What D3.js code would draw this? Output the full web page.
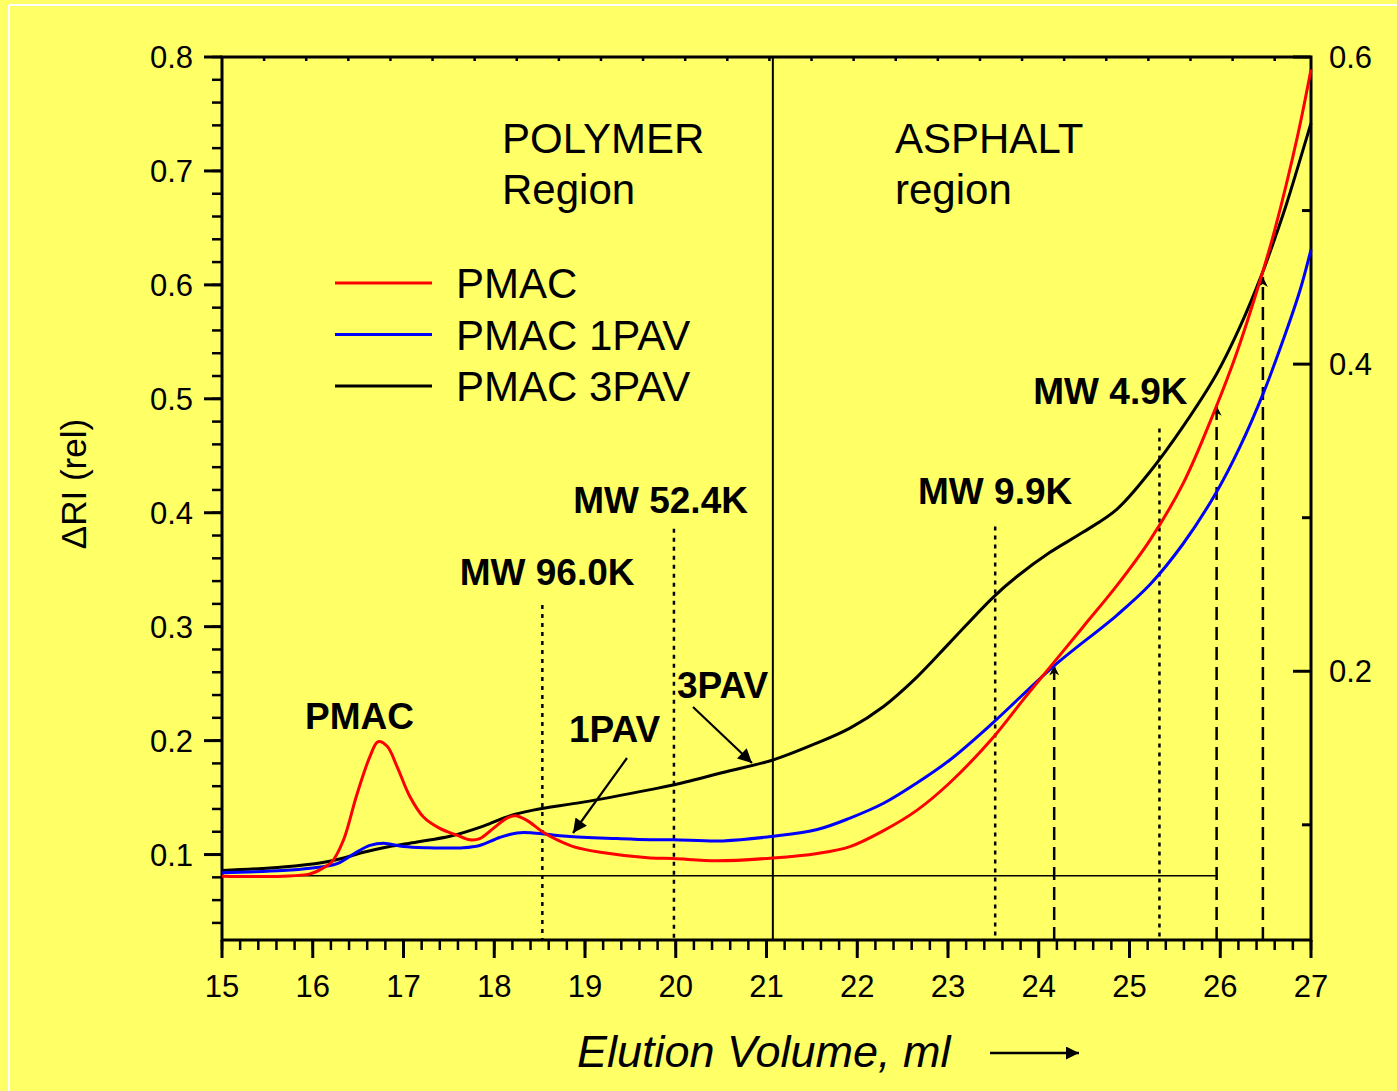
<!DOCTYPE html>
<html>
<head>
<meta charset="utf-8">
<script src="https://cdn.jsdelivr.net/npm/d3@7"></script>
<style>
  html, body { margin: 0; padding: 0; background: #FFFF66; }
  svg { display: block; }
  text { font-family: "Liberation Sans", Arial, sans-serif; fill: #000; }
</style>
</head>
<body>
<script>
// ---------------- DATA ----------------
const pmacX = [15, 15.67, 15.97, 16.11, 16.21, 16.34, 16.48, 16.63, 16.72, 16.82, 16.93, 17.07, 17.22, 17.4, 17.59, 17.73, 17.84, 17.99, 18.14, 18.23, 18.36, 18.53, 18.69, 18.87, 19.17, 19.72, 19.97, 20.45, 21.07, 21.56, 21.92, 22.29, 22.66, 23.02, 23.5, 23.83, 24.16, 24.49, 24.86, 25.226, 25.593, 25.94, 26.18, 26.44, 26.6, 26.85, 27];
const pmacY = [0.081, 0.081, 0.083, 0.088, 0.0935, 0.113, 0.151, 0.186, 0.199, 0.195, 0.177, 0.151, 0.133, 0.123, 0.117, 0.113, 0.114, 0.123, 0.132, 0.134, 0.130, 0.120, 0.113, 0.107, 0.102, 0.097, 0.0965, 0.0945, 0.097, 0.101, 0.107, 0.121, 0.139, 0.163, 0.203, 0.236, 0.268, 0.300, 0.336, 0.376, 0.426, 0.490, 0.540, 0.604, 0.648, 0.730, 0.789];

const pav1X = [15, 15.67, 15.97, 16.27, 16.48, 16.63, 16.78, 17.0, 17.26, 17.66, 17.84, 18.06, 18.25, 18.43, 18.8, 19.35, 19.72, 19.97, 20.52, 21.07, 21.56, 21.92, 22.29, 22.66, 23.02, 23.5, 24.16, 24.86, 25.226, 25.593, 25.961, 26.218, 26.475, 26.695, 26.88, 27];
const pav1Y = [0.084, 0.086, 0.088, 0.092, 0.102, 0.108, 0.110, 0.107, 0.106, 0.106, 0.108, 0.115, 0.119, 0.119, 0.116, 0.114, 0.113, 0.113, 0.112, 0.116, 0.122, 0.132, 0.145, 0.163, 0.183, 0.216, 0.265, 0.310, 0.337, 0.373, 0.4185, 0.458, 0.505, 0.552, 0.5955, 0.631];

const pav3X = [15, 15.67, 16.11, 16.34, 16.56, 16.78, 17.15, 17.51, 17.88, 18.17, 18.43, 18.98, 19.72, 19.97, 20.52, 21.07, 21.56, 21.92, 22.29, 22.66, 23.02, 23.5, 23.76, 24.12, 24.49, 24.86, 25.226, 25.593, 25.961, 26.218, 26.457, 26.62, 26.73, 27];
const pav3Y = [0.086, 0.089, 0.093, 0.097, 0.102, 0.106, 0.111, 0.116, 0.125, 0.134, 0.139, 0.146, 0.157, 0.161, 0.172, 0.183, 0.198, 0.211, 0.230, 0.256, 0.286, 0.326, 0.344, 0.365, 0.383, 0.403, 0.436, 0.476, 0.522, 0.5633, 0.609, 0.645, 0.671, 0.742];

const seriesNames = ["PMAC", "PMAC 1PAV", "PMAC 3PAV"];
const seriesColors = ["#ff0000", "#0000ff", "#000000"];

const xTickLabels = ["15","16","17","18","19","20","21","22","23","24","25","26","27"];
const yLeftTickLabels = ["0.1","0.2","0.3","0.4","0.5","0.6","0.7","0.8"];
const yRightTickLabels = ["0.2","0.4","0.6"];
const topTickValues = [15.464, 15.928, 16.392, 16.856, 17.32, 17.784, 18.248, 18.712, 19.176, 19.64, 20.104, 20.568, 21.032, 21.496, 21.96, 22.424, 22.888, 23.352, 23.816, 24.28, 24.744, 25.208, 25.672, 26.136, 26.6];

// MW marker lines (dotted) : x position, top value, label
const mwX = [18.53, 19.98, 23.52, 25.33];
const mwTop = [0.319, 0.386, 0.388, 0.474];
const mwLabels = ["MW 96.0K", "MW 52.4K", "MW 9.9K", "MW 4.9K"];
const mwLabelX = [17.62, 18.87, 22.67, 23.94];
const mwLabelY = [0.3366, 0.3998, 0.4077, 0.4955];

// dashed arrow lines
const dashX = [24.17, 25.96, 26.47];
const dashTop = [0.266, 0.494, 0.607];

const dividerX = 21.07;
const baselineValue = 0.0815;
const baselineEnd = 25.97;

// ---------------- LAYOUT ----------------
const W = 1397, H = 1091;
const pL = 222, pR = 1311, pT = 57, pB = 940;

const svg = d3.select("body").append("svg").attr("width", W).attr("height", H);
svg.append("rect").attr("width", W).attr("height", H).attr("fill", "#FFFF66");
svg.append("line").attr("x1", 9).attr("x2", W).attr("y1", 5).attr("y2", 5).attr("stroke", "#fff").attr("stroke-width", 2);
svg.append("line").attr("x1", 9).attr("x2", 9).attr("y1", 5).attr("y2", H).attr("stroke", "#fff").attr("stroke-width", 2);

const x = d3.scaleLinear().domain([15, 27]).range([pL, pR]);
const y = d3.scaleLinear().domain([0.025, 0.8]).range([pB, pT]);
const yR = d3.scaleLinear().domain([0.025, 0.6]).range([pB, pT]);

const defs = svg.append("defs");
defs.append("marker").attr("id", "arr").attr("viewBox", "0 0 10 10")
  .attr("refX", 10).attr("refY", 5).attr("markerWidth", 22).attr("markerHeight", 14)
  .attr("markerUnits", "userSpaceOnUse").attr("orient", "auto")
  .append("path").attr("d", "M0,0 L10,5 L0,10 Z").attr("fill", "#000");
defs.append("marker").attr("id", "arrSmall").attr("viewBox", "0 0 10 10")
  .attr("refX", 10).attr("refY", 5).attr("markerWidth", 13).attr("markerHeight", 10)
  .attr("markerUnits", "userSpaceOnUse").attr("orient", "auto")
  .append("path").attr("d", "M0,0 L10,5 L0,10 L3,5 Z").attr("fill", "#000");
defs.append("marker").attr("id", "arrAxis").attr("viewBox", "0 0 10 10")
  .attr("refX", 10).attr("refY", 5).attr("markerWidth", 22).attr("markerHeight", 13)
  .attr("markerUnits", "userSpaceOnUse").attr("orient", "auto")
  .append("path").attr("d", "M0,0 L10,5 L0,10 Z").attr("fill", "#000");

// ---------------- AXES ----------------
const ax = svg.append("g");

const bottomMinor = d3.range(15, 27.0001, 0.2);
ax.selectAll(".bmin").data(bottomMinor).join("line")
  .attr("x1", d => x(d)).attr("x2", d => x(d)).attr("y1", pB).attr("y2", pB + 10)
  .attr("stroke", "#000").attr("stroke-width", 2.5);
ax.selectAll(".bmaj").data(xTickLabels).join("line")
  .attr("x1", d => x(+d)).attr("x2", d => x(+d)).attr("y1", pB).attr("y2", pB + 18)
  .attr("stroke", "#000").attr("stroke-width", 3);
ax.selectAll(".blab").data(xTickLabels).join("text")
  .attr("x", d => x(+d)).attr("y", 997).attr("text-anchor", "middle")
  .attr("font-size", 31).text(d => d);

ax.selectAll(".tt").data(topTickValues).join("line")
  .attr("x1", d => x(d)).attr("x2", d => x(d)).attr("y1", pT).attr("y2", pT + 4)
  .attr("stroke", "#000").attr("stroke-width", 2.5);

const leftMinor = d3.range(0.04, 0.8001, 0.02);
ax.selectAll(".lmin").data(leftMinor).join("line")
  .attr("x1", pL - 10).attr("x2", pL).attr("y1", d => y(d)).attr("y2", d => y(d))
  .attr("stroke", "#000").attr("stroke-width", 2.5);
ax.selectAll(".lmaj").data(yLeftTickLabels).join("line")
  .attr("x1", pL - 18).attr("x2", pL).attr("y1", d => y(+d)).attr("y2", d => y(+d))
  .attr("stroke", "#000").attr("stroke-width", 3);
ax.selectAll(".llab").data(yLeftTickLabels).join("text")
  .attr("x", 193).attr("y", d => y(+d) + 11).attr("text-anchor", "end")
  .attr("font-size", 31).text(d => d);

const rightMinor = [0.1, 0.3, 0.5];
ax.selectAll(".rmin").data(rightMinor).join("line")
  .attr("x1", pR - 9).attr("x2", pR).attr("y1", d => yR(d)).attr("y2", d => yR(d))
  .attr("stroke", "#000").attr("stroke-width", 3);
ax.selectAll(".rmaj").data(yRightTickLabels).join("line")
  .attr("x1", pR - 18).attr("x2", pR).attr("y1", d => yR(+d)).attr("y2", d => yR(+d))
  .attr("stroke", "#000").attr("stroke-width", 3);
ax.selectAll(".rlab").data(yRightTickLabels).join("text")
  .attr("x", 1329).attr("y", d => yR(+d) + 11).attr("text-anchor", "start")
  .attr("font-size", 31).text(d => d);

ax.append("rect").attr("x", pL).attr("y", pT).attr("width", pR - pL).attr("height", pB - pT)
  .attr("fill", "none").attr("stroke", "#000").attr("stroke-width", 3);

svg.append("text").attr("transform", "translate(86,484) rotate(-90)")
  .attr("text-anchor", "middle").attr("font-size", 35).text("ΔRI (rel)");
svg.append("text").attr("x", 577).attr("y", 1067).attr("font-size", 45)
  .attr("font-style", "italic").text("Elution Volume, ml");
svg.append("line").attr("x1", 990).attr("x2", 1079).attr("y1", 1053).attr("y2", 1053)
  .attr("stroke", "#000").attr("stroke-width", 2.5).attr("marker-end", "url(#arrAxis)");

// ---------------- REFERENCE LINES ----------------
const g = svg.append("g");
g.append("line").attr("x1", x(15)).attr("x2", x(baselineEnd))
  .attr("y1", y(baselineValue)).attr("y2", y(baselineValue))
  .attr("stroke", "#000").attr("stroke-width", 1.5);
g.append("line").attr("x1", x(dividerX)).attr("x2", x(dividerX)).attr("y1", pT).attr("y2", pB)
  .attr("stroke", "#000").attr("stroke-width", 2);
g.selectAll(".mw").data(mwX).join("line")
  .attr("x1", d => x(d)).attr("x2", d => x(d))
  .attr("y1", (d, i) => y(mwTop[i])).attr("y2", pB)
  .attr("stroke", "#000").attr("stroke-width", 2.5).attr("stroke-dasharray", "4,5");
g.selectAll(".da").data(dashX).join("line")
  .attr("x1", d => x(d)).attr("x2", d => x(d))
  .attr("y1", pB).attr("y2", (d, i) => y(dashTop[i]))
  .attr("stroke", "#000").attr("stroke-width", 2.5).attr("stroke-dasharray", "13,7")
  .attr("marker-end", "url(#arrSmall)");

// ---------------- CURVES ----------------
const line = d3.line().x(d => x(d[0])).y(d => y(d[1])).curve(d3.curveCatmullRom.alpha(0.5));
const seriesData = [
  d3.zip(pmacX, pmacY),
  d3.zip(pav1X, pav1Y),
  d3.zip(pav3X, pav3Y)
];
[2, 1, 0].forEach(i => {
  svg.append("path").datum(seriesData[i]).attr("d", line)
    .attr("fill", "none").attr("stroke", seriesColors[i]).attr("stroke-width", 3)
    .attr("stroke-linejoin", "round");
});

// ---------------- ANNOTATIONS ----------------
const bold = (tx, ty, t) => svg.append("text").attr("x", tx).attr("y", ty)
  .attr("font-size", 37).attr("font-weight", "bold").text(t);
mwLabels.forEach((t, i) => bold(x(mwLabelX[i]), y(mwLabelY[i]), t));
bold(305, 729, "PMAC");
bold(569, 742, "1PAV");
bold(677, 698, "3PAV");

svg.append("line").attr("x1", 627).attr("y1", 758).attr("x2", 573).attr("y2", 833)
  .attr("stroke", "#000").attr("stroke-width", 2.2).attr("marker-end", "url(#arr)");
svg.append("line").attr("x1", 693).attr("y1", 707).attr("x2", 752).attr("y2", 763)
  .attr("stroke", "#000").attr("stroke-width", 2.2).attr("marker-end", "url(#arr)");

const reg = (tx, ty, t) => svg.append("text").attr("x", tx).attr("y", ty).attr("font-size", 42).text(t);
reg(502, 153, "POLYMER");
reg(502, 204, "Region");
reg(895, 153, "ASPHALT");
reg(895, 204, "region");

const lg = svg.append("g");
seriesNames.forEach((n, i) => {
  const ly = 283 + i * 51.5;
  lg.append("line").attr("x1", 335).attr("x2", 432).attr("y1", ly).attr("y2", ly)
    .attr("stroke", seriesColors[i]).attr("stroke-width", 3);
  lg.append("text").attr("x", 456).attr("y", ly + 15).attr("font-size", 42).text(n);
});
</script>
</body>
</html>
